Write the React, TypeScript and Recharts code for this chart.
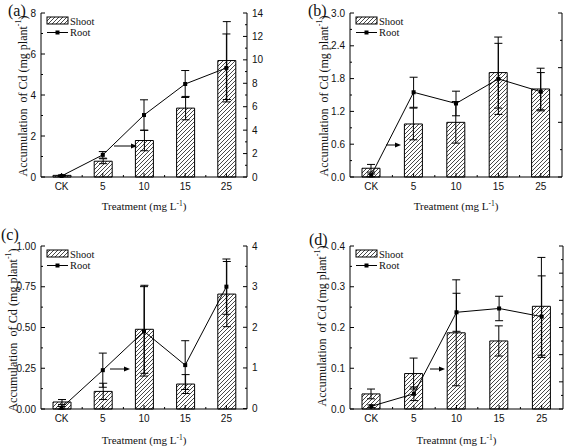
import { Bar, ComposedChart, ErrorBar, Label, Line, XAxis, YAxis } from 'recharts';

const categories = ['CK', '5', '10', '15', '25'];

// (a)
const shootA = [0.08, 0.77, 1.78, 3.36, 5.68];
const shootErrA = [0.02, 0.12, 0.5, 0.57, 1.9];
const rootA = [0.09, 1.89, 5.29, 7.94, 9.31];
const rootErrA = [0.05, 0.28, 1.3, 1.15, 2.9];

// (b)
const shootB = [0.16, 0.97, 1.0, 1.91, 1.61];
const shootErrB = [0.07, 0.29, 0.38, 0.65, 0.38];
const rootB = [0.06, 3.1, 2.69, 3.59, 3.12];
const rootErrB = [0.05, 0.55, 0.45, 1.3, 0.7];

// (c)
const shootC = [0.043, 0.108, 0.489, 0.153, 0.705];
const shootErrC = [0.015, 0.05, 0.27, 0.058, 0.2];
const rootC = [0.02, 0.945, 1.9, 1.07, 3.0];
const rootErrC = [0.03, 0.42, 1.1, 0.6, 0.68];

// (d)
const shootD = [0.037, 0.087, 0.187, 0.167, 0.252];
const shootErrD = [0.012, 0.038, 0.13, 0.037, 0.12];
const rootD = [0.1, 0.56, 3.56, 3.7, 3.4];
const rootErrD = [0.05, 0.25, 0.7, 0.45, 1.5];

const leftTicksA = [0, 2, 4, 6, 8];
const rightTicksA = [0, 2, 4, 6, 8, 10, 12, 14];
const leftTicksB = [0, 0.6, 1.2, 1.8, 2.4, 3.0];
const rightTicksB = [0, 2, 4, 6];
const leftTicksC = [0, 0.25, 0.5, 0.75, 1.0];
const rightTicksC = [0, 1, 2, 3, 4];
const leftTicksD = [0, 0.1, 0.2, 0.3, 0.4];
const rightTicksD = [0, 1, 2, 3, 4, 5, 6];

const TICK_FONT = "'Liberation Sans Narrow', 'Liberation Sans', Arial, sans-serif";
const SERIF = "'Liberation Serif', 'Times New Roman', serif";
const INK = '#111';
const GAP = 5;

const withMinors = (majors: number[]) => {
  const out = [...majors];
  for (let i = 0; i < majors.length - 1; i++) out.push((majors[i] + majors[i + 1]) / 2);
  return out.sort((a, b) => a - b);
};

// ticks point inward, minor ticks halfway between labels
const YTick = (props: any) => {
  const { x, y, payload, side, majors, digits } = props;
  const major = majors.includes(payload.value);
  const dir = side === 'left' ? 1 : -1;
  const ax = x + dir * GAP;
  return (
    <g>
      <line x1={ax} x2={ax + dir * (major ? 4 : 2)} y1={y} y2={y} stroke="#000" />
      {major && (
        <text
          x={x}
          y={y}
          dy={3.5}
          textAnchor={side === 'left' ? 'end' : 'start'}
          fontFamily={TICK_FONT}
          fontSize={10}
          fill={INK}
        >
          {payload.value.toFixed(digits)}
        </text>
      )}
    </g>
  );
};

const XTick = (props: any) => {
  const { x, y, payload, index, band } = props;
  const ay = y - GAP;
  return (
    <g>
      <line x1={x} x2={x} y1={ay} y2={ay - 4} stroke="#000" />
      {index < categories.length - 1 && (
        <line x1={x + band / 2} x2={x + band / 2} y1={ay} y2={ay - 2} stroke="#000" />
      )}
      <text x={x} y={y} dy={8} textAnchor="middle" fontFamily={TICK_FONT} fontSize={10} fill={INK}>
        {payload.value}
      </text>
    </g>
  );
};

const SquareDot = (props: any) => {
  const { cx, cy, index } = props;
  if (cx == null || cy == null) return <g key={index} />;
  return <rect key={index} x={cx - 2} y={cy - 2} width={4} height={4} fill="#000" />;
};

type PanelProps = {
  tag: string;
  left: number;
  top: number;
  width: number;
  height: number;
  plot: { l: number; r: number; t: number; b: number };
  shoot: number[];
  shootErr: number[];
  root: number[];
  rootErr: number[];
  leftTicks: number[];
  rightTicks: number[];
  digits: number;
  xTitle: string;
  yTitleX: number;
  yTitleY: number;
  yTitleSize: number;
  xTitleY: number;
  tagPos: [number, number];
  arrow: [number, number, number];
};

const Panel = (p: PanelProps) => {
  const data = categories.map((cat, i) => ({
    cat,
    shoot: p.shoot[i],
    shootErr: p.shootErr[i],
    root: p.root[i],
    rootErr: p.rootErr[i],
  }));
  const band = (p.plot.r - p.plot.l) / categories.length;
  const lx = p.plot.l + 6;
  const ly = p.plot.t + 3;
  const [ax1, ax2, ay] = p.arrow;

  return (
    <div style={{ position: 'absolute', left: p.left, top: p.top, width: p.width, height: p.height }}>
      <ComposedChart
        width={p.width}
        height={p.height}
        data={data}
        margin={{ top: p.plot.t, right: 0, bottom: 0, left: 0 }}
      >
        <XAxis
          dataKey="cat"
          height={p.height - p.plot.b}
          axisLine={{ stroke: '#000' }}
          tickLine={false}
          tickSize={0}
          tickMargin={GAP}
          interval={0}
          tick={(t: any) => <XTick {...t} band={band} />}
        >
          <Label
            content={() => (
              <text
                x={(p.plot.l + p.plot.r) / 2}
                y={p.xTitleY}
                textAnchor="middle"
                fontFamily={SERIF}
                fontSize={11}
                fill={INK}
              >
                {p.xTitle} (mg L
                <tspan dy={-4} fontSize={7.5}>-1</tspan>
                <tspan dy={4}>)</tspan>
              </text>
            )}
          />
        </XAxis>
        <YAxis
          yAxisId="L"
          orientation="left"
          width={p.plot.l}
          domain={[p.leftTicks[0], p.leftTicks[p.leftTicks.length - 1]]}
          ticks={withMinors(p.leftTicks)}
          interval={0}
          axisLine={{ stroke: '#000' }}
          tickLine={false}
          tickSize={0}
          tickMargin={GAP}
          tick={(t: any) => <YTick {...t} side="left" majors={p.leftTicks} digits={p.digits} />}
        >
          <Label
            content={() => (
              <text
                transform={`translate(${p.yTitleX}, ${p.yTitleY}) rotate(-90)`}
                textAnchor="middle"
                dominantBaseline="central"
                fontFamily={SERIF}
                fontSize={p.yTitleSize}
                fill={INK}
                style={{ whiteSpace: 'pre' }}
              >
                {'Accumulation  of Cd (mg plant'}
                <tspan dy={-5} fontSize={8}>-1</tspan>
                <tspan dy={5}>)</tspan>
              </text>
            )}
          />
        </YAxis>
        <YAxis
          yAxisId="R"
          orientation="right"
          width={p.width - p.plot.r}
          domain={[p.rightTicks[0], p.rightTicks[p.rightTicks.length - 1]]}
          ticks={withMinors(p.rightTicks)}
          interval={0}
          axisLine={{ stroke: '#000' }}
          tickLine={false}
          tickSize={0}
          tickMargin={GAP}
          tick={(t: any) => <YTick {...t} side="right" majors={p.rightTicks} digits={0} />}
        />
        <Bar
          yAxisId="L"
          dataKey="shoot"
          barSize={18}
          fill="url(#hatch)"
          stroke="#000"
          strokeWidth={1}
          isAnimationActive={false}
        >
          <ErrorBar dataKey="shootErr" width={4} stroke="#000" strokeWidth={1} />
        </Bar>
        <Line
          yAxisId="R"
          dataKey="root"
          type="linear"
          stroke="#000"
          strokeWidth={1}
          dot={SquareDot}
          activeDot={false}
          isAnimationActive={false}
        >
          <ErrorBar dataKey="rootErr" width={4} stroke="#000" strokeWidth={1} />
        </Line>
      </ComposedChart>

      <svg
        width={p.width}
        height={p.height}
        style={{ position: 'absolute', left: 0, top: 0, pointerEvents: 'none' }}
      >
        <text x={p.tagPos[0]} y={p.tagPos[1]} fontFamily={SERIF} fontSize={16} fill={INK}>
          ({p.tag})
        </text>
        <line x1={ax1} x2={ax2 - 5} y1={ay} y2={ay} stroke="#000" strokeWidth={1} />
        <path d={`M${ax2},${ay} l-6,-2.5 l0,5 z`} fill="#000" />
        <rect x={lx} y={ly + 1} width={21} height={7} fill="url(#hatch)" stroke="#000" />
        <text x={lx + 23} y={ly + 8.5} fontFamily={SERIF} fontSize={10.5} fill={INK}>
          Shoot
        </text>
        <line x1={lx} x2={lx + 21} y1={ly + 16.5} y2={ly + 16.5} stroke="#000" />
        <rect x={lx + 8.5} y={ly + 14.5} width={4} height={4} fill="#000" />
        <text x={lx + 23} y={ly + 20} fontFamily={SERIF} fontSize={10.5} fill={INK}>
          Root
        </text>
      </svg>
    </div>
  );
};

export default function App() {
  return (
    <div style={{ position: 'absolute', left: 0, top: 0, width: 567, height: 447, background: '#fff' }}>
      <svg width={0} height={0} style={{ position: 'absolute' }}>
        <defs>
          <pattern id="hatch" patternUnits="userSpaceOnUse" width={4} height={4}>
            <rect width={4} height={4} fill="#fff" />
            <path d="M-1,1 l2,-2 M0,4 l4,-4 M3,5 l2,-2" stroke="#333" strokeWidth={0.9} />
          </pattern>
        </defs>
      </svg>
      <Panel
        tag="a"
        left={0}
        top={0}
        width={283}
        height={220}
        plot={{ l: 41, r: 247, t: 13, b: 177 }}
        shoot={shootA}
        shootErr={shootErrA}
        root={rootA}
        rootErr={rootErrA}
        leftTicks={leftTicksA}
        rightTicks={rightTicksA}
        digits={0}
        xTitle="Treatment"
        yTitleX={23}
        yTitleY={96}
        yTitleSize={12}
        xTitleY={210}
        tagPos={[8, 16]}
        arrow={[114, 137, 146]}
      />
      <Panel
        tag="b"
        left={283}
        top={0}
        width={284}
        height={220}
        plot={{ l: 67, r: 279, t: 13, b: 177 }}
        shoot={shootB}
        shootErr={shootErrB}
        root={rootB}
        rootErr={rootErrB}
        leftTicks={leftTicksB}
        rightTicks={rightTicksB}
        digits={1}
        xTitle="Treatment"
        yTitleX={41}
        yTitleY={96}
        yTitleSize={12}
        xTitleY={210}
        tagPos={[25, 16]}
        arrow={[103, 118, 145]}
      />
      <Panel
        tag="c"
        left={0}
        top={220}
        width={283}
        height={227}
        plot={{ l: 41, r: 247, t: 26, b: 189 }}
        shoot={shootC}
        shootErr={shootErrC}
        root={rootC}
        rootErr={rootErrC}
        leftTicks={leftTicksC}
        rightTicks={rightTicksC}
        digits={2}
        xTitle="Treatment"
        yTitleX={13}
        yTitleY={110}
        yTitleSize={12.2}
        xTitleY={224}
        tagPos={[1, 20]}
        arrow={[110, 130, 149]}
      />
      <Panel
        tag="d"
        left={283}
        top={220}
        width={284}
        height={227}
        plot={{ l: 67, r: 280, t: 26, b: 189 }}
        shoot={shootD}
        shootErr={shootErrD}
        root={rootD}
        rootErr={rootErrD}
        leftTicks={leftTicksD}
        rightTicks={rightTicksD}
        digits={1}
        xTitle="Treatmnt"
        yTitleX={39}
        yTitleY={106}
        yTitleSize={12}
        xTitleY={224}
        tagPos={[26, 25]}
        arrow={[147, 162, 149]}
      />
    </div>
  );
}
